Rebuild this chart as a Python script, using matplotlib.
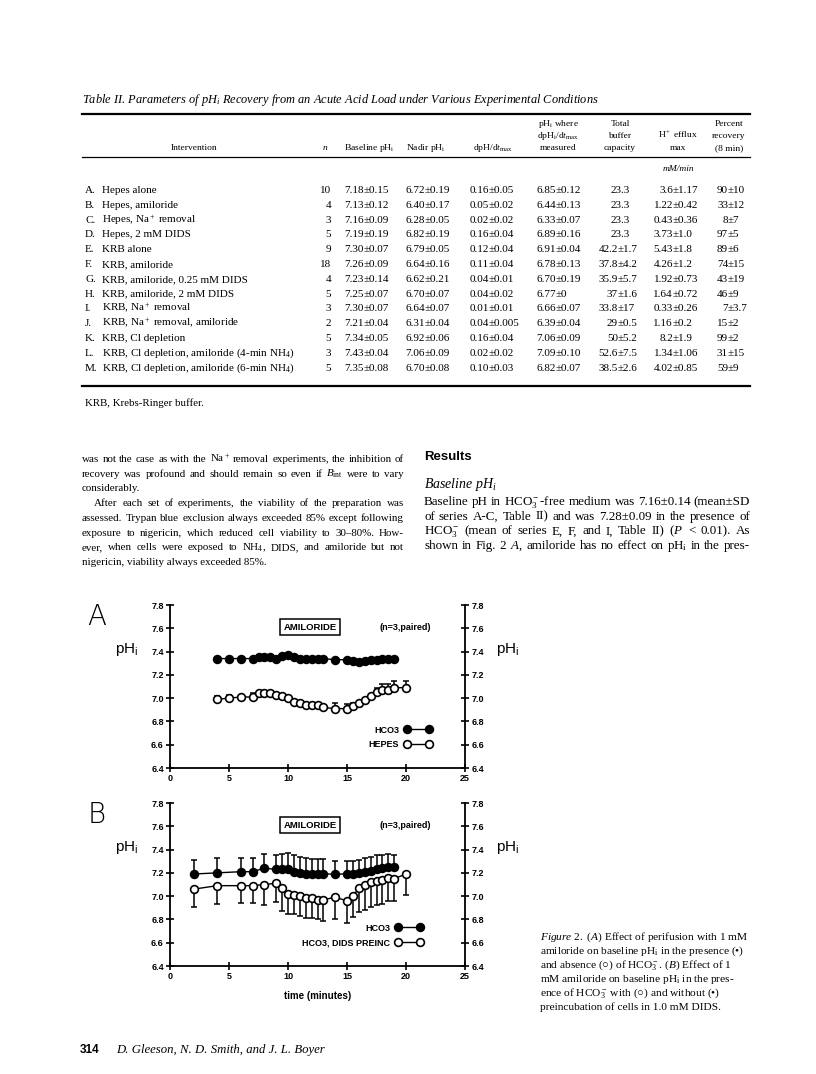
import numpy as np
import matplotlib
matplotlib.use("Agg")
import matplotlib.pyplot as plt
from matplotlib.lines import Line2D
from matplotlib.ticker import FormatStrFormatter

plt.rcParams['font.family'] = 'Liberation Sans'
plt.rcParams['mathtext.fontset'] = 'custom'
plt.rcParams['mathtext.rm'] = 'Liberation Serif'
plt.rcParams['mathtext.it'] = 'Liberation Serif:italic'
plt.rcParams['mathtext.bf'] = 'Liberation Serif:bold'
plt.rcParams['mathtext.sf'] = 'Liberation Sans'

W, H = 816, 1074
SERIF = 'Liberation Serif'

# ---------------- Fig 2A: amiloride, HCO3 vs HEPES ----------------
tA_hco3 = [4, 5, 6, 7, 7.5, 8, 8.5, 9, 9.5, 10, 10.5, 11, 11.5, 12, 12.5, 13,
           14, 15, 15.5, 16, 16.5, 17, 17.5, 18, 18.5, 19]
phA_hco3 = [7.34, 7.34, 7.34, 7.34, 7.35, 7.35, 7.35, 7.34, 7.36, 7.37, 7.35, 7.34, 7.34, 7.34, 7.34, 7.34,
            7.33, 7.33, 7.32, 7.31, 7.32, 7.33, 7.33, 7.34, 7.34, 7.34]
seA_hco3 = [0, 0, 0, 0, 0, 0, 0, 0.02, 0, 0, 0, 0, 0, 0, 0, 0,
            0, 0, 0, 0, 0, 0, 0, 0, 0, 0]
tA_hepes = [4, 5, 6, 7, 7.5, 8, 8.5, 9, 9.5, 10, 10.5, 11, 11.5, 12, 12.5, 13,
            14, 15, 15.5, 16, 16.5, 17, 17.5, 18, 18.5, 19, 20]
phA_hepes = [6.99, 7.00, 7.01, 7.01, 7.04, 7.04, 7.04, 7.03, 7.02, 7.00, 6.97, 6.96, 6.94, 6.94, 6.94, 6.92,
             6.91, 6.91, 6.93, 6.96, 6.98, 7.02, 7.05, 7.07, 7.07, 7.09, 7.09]
seA_hepes = [0.03, 0.03, 0, 0.03, 0, 0, 0, 0, 0, 0, 0, 0, 0, 0, 0.02, 0,
             0.05, 0.04, 0.03, 0, 0, 0, 0.04, 0.05, 0.05, 0.06, 0.06]

# ---------------- Fig 2B: amiloride, HCO3 with / without DIDS ----------------
tB_hco3 = [2, 4, 6, 7, 8, 9, 9.5, 10, 10.5, 11, 11.5, 12, 12.5, 13,
           14, 15, 15.5, 16, 16.5, 17, 17.5, 18, 18.5, 19]
phB_hco3 = [7.19, 7.20, 7.21, 7.21, 7.24, 7.23, 7.23, 7.23, 7.21, 7.20, 7.19, 7.19, 7.19, 7.19,
            7.19, 7.19, 7.19, 7.20, 7.21, 7.22, 7.23, 7.24, 7.25, 7.25]
seB_hco3 = [0.12, 0.13, 0.12, 0.12, 0.12, 0.12, 0.13, 0.14, 0.14, 0.14, 0.14, 0.13, 0.13, 0.13,
            0.11, 0.11, 0.11, 0.11, 0.12, 0.12, 0.12, 0.11, 0.11, 0.10]
tB_dids = [2, 4, 6, 7, 8, 9, 9.5, 10, 10.5, 11, 11.5, 12, 12.5, 13,
           14, 15, 15.5, 16, 16.5, 17, 17.5, 18, 18.5, 19, 20]
phB_dids = [7.06, 7.09, 7.09, 7.09, 7.10, 7.11, 7.07, 7.02, 7.01, 7.00, 6.98, 6.98, 6.97, 6.97,
            6.99, 6.96, 7.00, 7.07, 7.10, 7.12, 7.13, 7.14, 7.16, 7.15, 7.19]
seB_dids = [0.15, 0.16, 0.15, 0.15, 0.18, 0.16, 0.20, 0.17, 0.16, 0.17, 0.17, 0.17, 0.17, 0.18,
            0.19, 0.19, 0.18, 0.21, 0.22, 0.21, 0.21, 0.21, 0.20, 0.19, 0.18]

# ---------------- Table II ----------------
row_ids = ['A.', 'B.', 'C.', 'D.', 'E.', 'F.', 'G.', 'H.', 'I.', 'J.', 'K.', 'L.', 'M.']
interventions = ['Hepes alone', 'Hepes, amiloride', 'Hepes, N$\\mathrm{a}^+$ removal', 'Hepes, 2 mM DIDS',
                 'KRB alone', 'KRB, amiloride', 'KRB, amiloride, 0.25 mM DIDS', 'KRB, amiloride, 2 mM DIDS',
                 'KRB, N$\\mathrm{a}^+$ removal', 'KRB, N$\\mathrm{a}^+$ removal, amiloride', 'KRB, Cl depletion',
                 'KRB, Cl depletion, amiloride (4-min N$\\mathrm{H}_4$)',
                 'KRB, Cl depletion, amiloride (6-min N$\\mathrm{H}_4$)']
n_cells = ['10', '4', '3', '5', '9', '18', '4', '5', '3', '2', '5', '3', '5']
baseline_ph = ['7.18±0.15', '7.13±0.12', '7.16±0.09', '7.19±0.19', '7.30±0.07', '7.26±0.09', '7.23±0.14',
               '7.25±0.07', '7.30±0.07', '7.21±0.04', '7.34±0.05', '7.43±0.04', '7.35±0.08']
nadir_ph = ['6.72±0.19', '6.40±0.17', '6.28±0.05', '6.82±0.19', '6.79±0.05', '6.64±0.16', '6.62±0.21',
            '6.70±0.07', '6.64±0.07', '6.31±0.04', '6.92±0.06', '7.06±0.09', '6.70±0.08']
dphdt_max = ['0.16±0.05', '0.05±0.02', '0.02±0.02', '0.16±0.04', '0.12±0.04', '0.11±0.04', '0.04±0.01',
             '0.04±0.02', '0.01±0.01', '0.04±0.005', '0.16±0.04', '0.02±0.02', '0.10±0.03']
ph_where = ['6.85±0.12', '6.44±0.13', '6.33±0.07', '6.89±0.16', '6.91±0.04', '6.78±0.13', '6.70±0.19',
            '6.77±0', '6.66±0.07', '6.39±0.04', '7.06±0.09', '7.09±0.10', '6.82±0.07']
buffer_cap = ['23.3', '23.3', '23.3', '23.3', '42.2±1.7', '37.8±4.2', '35.9±5.7', '37±1.6', '33.8±17',
              '29±0.5', '50±5.2', '52.6±7.5', '38.5±2.6']
h_efflux = ['3.6±1.17', '1.22±0.42', '0.43±0.36', '3.73±1.0', '5.43±1.8', '4.26±1.2', '1.92±0.73',
            '1.64±0.72', '0.33±0.26', '1.16±0.2', '8.2±1.9', '1.34±1.06', '4.02±0.85']
pct_recovery = ['90±10', '33±12', '8±7', '97±5', '89±6', '74±15', '43±19', '46±9', '7±3.7', '15±2',
                '99±2', '31±15', '59±9']

left_col = [
    ('was not the case as with the N$\\mathrm{a}^+$ removal experiments, the inhibition of', True, 0),
    ('recovery was profound and should remain so even if $B_\\mathrm{int}$ were to vary', True, 0),
    ('considerably.', False, 0),
    ('After each set of experiments, the viability of the preparation was', True, 12),
    ('assessed. Trypan blue exclusion always exceeded 85% except following', True, 0),
    ('exposure to nigericin, which reduced cell viability to 30–80%. How-', True, 0),
    ('ever, when cells were exposed to N$\\mathrm{H}_4$, DIDS, and amiloride but not', True, 0),
    ('nigericin, viability always exceeded 85%.', False, 0),
]
right_col = [
    ('Baseline pH in HC$\\mathrm{O}_3^-$-free medium was 7.16±0.14 (mean±SD', True, 0),
    ('of series A-C, Table II) and was 7.28±0.09 in the presence of', True, 0),
    ('HC$\\mathrm{O}_3^-$ (mean of series E, F, and I, Table II) ($P$ < 0.01). As', True, 0),
    ('shown in Fig. 2 $A$, amiloride has no effect on p$\\mathrm{H}_\\mathrm{i}$ in the pres-', True, 0),
]
caption = [
    '$\\mathit{Figure\\ 2.}$ ($\\mathit{A}$) Effect of perifusion with 1 mM',
    'amiloride on baseline p$\\mathrm{H}_\\mathrm{i}$ in the presence (•)',
    'and absence (○) of HC$\\mathrm{O}_3^-$. ($\\mathit{B}$) Effect of 1',
    'mM amiloride on baseline p$\\mathrm{H}_\\mathrm{i}$ in the pres-',
    'ence of HC$\\mathrm{O}_3^-$ with (○) and without (•)',
    'preincubation of cells in 1.0 mM DIDS.',
]

fig = plt.figure(figsize=(W / 100, H / 100), dpi=100)
fig.patch.set_facecolor('white')
renderer = fig.canvas.get_renderer()


def P(x, y):
    return x / W, 1 - y / H


def txt(x, y, s, **kw):
    kw.setdefault('va', 'baseline')
    return fig.text(*P(x, y), s, **kw)


def hline(x0, x1, y, lw):
    fig.add_artist(Line2D([x0 / W, x1 / W], [1 - y / H, 1 - y / H], color='k', lw=lw,
                          transform=fig.transFigure))


def word_widths(words, size, **kw):
    ts = [txt(0, 0, w, fontsize=size, **kw) for w in words]
    widths = [t.get_window_extent(renderer).width for t in ts]
    for t in ts:
        t.remove()
    return widths


def column(x0, x1, y0, step, lines, size, min_gap=3.0, **kw):
    # one type size for the whole column: the largest that lets every justified line fit
    while size > 6:
        ok = True
        for line, just, indent in lines:
            words = line.split(' ')
            if just and sum(word_widths(words, size, **kw)) + min_gap * (len(words) - 1) > x1 - x0 - indent:
                ok = False
                break
        if ok:
            break
        size -= 0.1
    for k, (line, just, indent) in enumerate(lines):
        y = y0 + k * step
        if not just:
            txt(x0 + indent, y, line, fontsize=size, **kw)
            continue
        words = line.split(' ')
        widths = word_widths(words, size, **kw)
        gap = (x1 - x0 - indent - sum(widths)) / max(len(words) - 1, 1)
        x = x0 + indent
        for w, wd in zip(words, widths):
            txt(x, y, w, fontsize=size, **kw)
            x += wd + gap


def pm_cell(xpm, y, s, **kw):
    # align the entries of one column on the ± sign
    if '±' in s:
        a, b = s.split('±', 1)
        txt(xpm, y, a, ha='right', **kw)
        txt(xpm, y, '±' + b, ha='left', **kw)
    else:
        txt(xpm + 2, y, s, ha='center', **kw)


# ---------------- Table ----------------
LM, RM = 82, 750
txt(LM, 103, 'Table II. Parameters of p$H_i$ Recovery from an Acute Acid Load under Various Experimental Conditions',
    family=SERIF, style='italic', fontsize=8.9)
hline(LM, RM, 114, 1.6)
hk = dict(family=SERIF, fontsize=6.8, ha='center')
txt(194, 150, 'Intervention', **hk)
txt(325, 150, '$n$', **hk)
txt(369, 150, 'Baseline p$\\mathrm{H}_\\mathrm{i}$', **hk)
txt(426, 150, 'Nadir p$\\mathrm{H}_\\mathrm{i}$', **hk)
txt(493, 150, 'dpH/d$t_\\mathrm{max}$', **hk)
txt(558, 126, 'p$\\mathrm{H}_\\mathrm{i}$ where', **hk)
txt(558, 138, 'dp$\\mathrm{H}_\\mathrm{i}$/d$t_\\mathrm{max}$', **hk)
txt(558, 150, 'measured', **hk)
txt(620, 126, 'Total', **hk)
txt(620, 138, 'buffer', **hk)
txt(620, 150, 'capacity', **hk)
txt(678, 138, 'H$^+$ efflux', **hk)
txt(678, 150, 'max', **hk)
txt(729, 126, 'Percent', **hk)
txt(729, 138, 'recovery', **hk)
txt(729, 150, '(8 min)', **hk)
hline(LM, RM, 157, 0.9)
txt(678, 171, 'mM/min', family=SERIF, style='italic', fontsize=6.8, ha='center')

ck = dict(family=SERIF, fontsize=8.0)
pm_cols = [(364, baseline_ph), (425, nadir_ph), (489, dphdt_max), (556, ph_where),
           (618, buffer_cap), (673, h_efflux), (728, pct_recovery)]
for i in range(len(row_ids)):
    y = 193 + i * 14.8
    txt(85, y, row_ids[i], **ck)
    txt(102, y, interventions[i], **ck)
    txt(331, y, n_cells[i], ha='right', **ck)
    for xpm, col in pm_cols:
        pm_cell(xpm, y, col[i], **ck)
hline(LM, RM, 386, 1.6)
txt(85, 406, 'KRB, Krebs-Ringer buffer.', family=SERIF, fontsize=7.8)

# ---------------- body text ----------------
column(LM, 404, 462, 14.7, left_col, 9.0, family=SERIF)
txt(424, 460, 'Results', fontsize=9.5, weight='bold')
txt(424, 488, 'Baseline p$\\mathit{H}_\\mathit{i}$', family=SERIF, style='italic', fontsize=10)
column(424, RM, 505, 14.7, right_col, 9.8, family=SERIF)

# ---------------- Figure 2 ----------------
def panel(top):
    ax = fig.add_axes([170 / W, 1 - (top + 163) / H, 295 / W, 163 / H])
    ax.set_xlim(0, 25)
    ax.set_ylim(6.4, 7.8)
    ax.spines['top'].set_visible(False)
    for s in ('left', 'right', 'bottom'):
        ax.spines[s].set_linewidth(1.3)
    ax.set_xticks(range(0, 26, 5))
    ax.set_yticks(np.arange(6.4, 7.81, 0.2))
    ax.yaxis.set_major_formatter(FormatStrFormatter('%.1f'))
    ax.tick_params(direction='inout', length=6, width=1.2, labelsize=6.5, pad=1.5,
                   right=True, labelright=True)
    for lab in ax.get_xticklabels() + ax.get_yticklabels():
        lab.set_fontweight('bold')
    ax.patch.set_alpha(0)
    return ax


def series(ax, t, ph, se, filled, up, label):
    t = np.asarray(t)
    ph = np.asarray(ph)
    se = np.asarray(se)
    m = se > 0
    zeros = np.zeros(m.sum())
    yerr = [zeros, se[m]] if up else [se[m], zeros]
    ax.errorbar(t[m], ph[m], yerr=yerr, fmt='none', ecolor='k', elinewidth=1.1,
                capsize=2.4, capthick=1.1, zorder=2)
    ax.plot(t, ph, color='k', lw=1.0, marker='o', ms=5.6, mew=1.2,
            mfc='k' if filled else 'w', mec='k', zorder=3, label=label)


box = dict(boxstyle='square,pad=0.35', fc='w', ec='k', lw=1.1)
legend_kw = dict(loc='lower right', bbox_transform=fig.transFigure, frameon=False, markerfirst=False,
                 numpoints=2, handlelength=3.0, handletextpad=0.6, labelspacing=0.65, borderpad=0,
                 prop=dict(family='Liberation Sans', weight='bold', size=6.5))

axA = panel(605)
series(axA, tA_hepes, phA_hepes, seA_hepes, False, True, 'HEPES')
series(axA, tA_hco3, phA_hco3, seA_hco3, True, False, 'HCO3')
hA, lA = axA.get_legend_handles_labels()
axA.legend(hA[::-1], lA[::-1], bbox_to_anchor=P(436, 754), **legend_kw)

axB = panel(803)
series(axB, tB_dids, phB_dids, seB_dids, False, False, 'HCO3, DIDS PREINC')
series(axB, tB_hco3, phB_hco3, seB_hco3, True, True, 'HCO3')
hB, lB = axB.get_legend_handles_labels()
axB.legend(hB[::-1], lB[::-1], bbox_to_anchor=P(427, 952), **legend_kw)
axB.set_xlabel('time (minutes)', fontsize=7, weight='bold', labelpad=7)

for top, letter in ((605, 'A'), (803, 'B')):
    txt(97, top + 12, letter, fontsize=20, ha='center', va='center', family='DejaVu Sans', weight='light')
    txt(310, top + 22, 'AMILORIDE', fontsize=6.8, weight='bold', ha='center', va='center', bbox=box)
    txt(405, top + 22, '(n=3,paired)', fontsize=6.5, weight='bold', ha='center', va='center')
    txt(127, top + 44, '$\\mathsf{pH_i}$', fontsize=11, ha='center', va='center')
    txt(508, top + 44, '$\\mathsf{pH_i}$', fontsize=11, ha='center', va='center')

for k, line in enumerate(caption):
    txt(540, 940 + k * 14, line, family=SERIF, fontsize=8.2)

txt(80, 1053, '314', fontsize=8.5, weight='bold')
txt(116, 1053, 'D. Gleeson, N. D. Smith, and J. L. Boyer', family=SERIF, style='italic', fontsize=9.2)

fig.savefig('out.png', dpi=100, facecolor='white')
